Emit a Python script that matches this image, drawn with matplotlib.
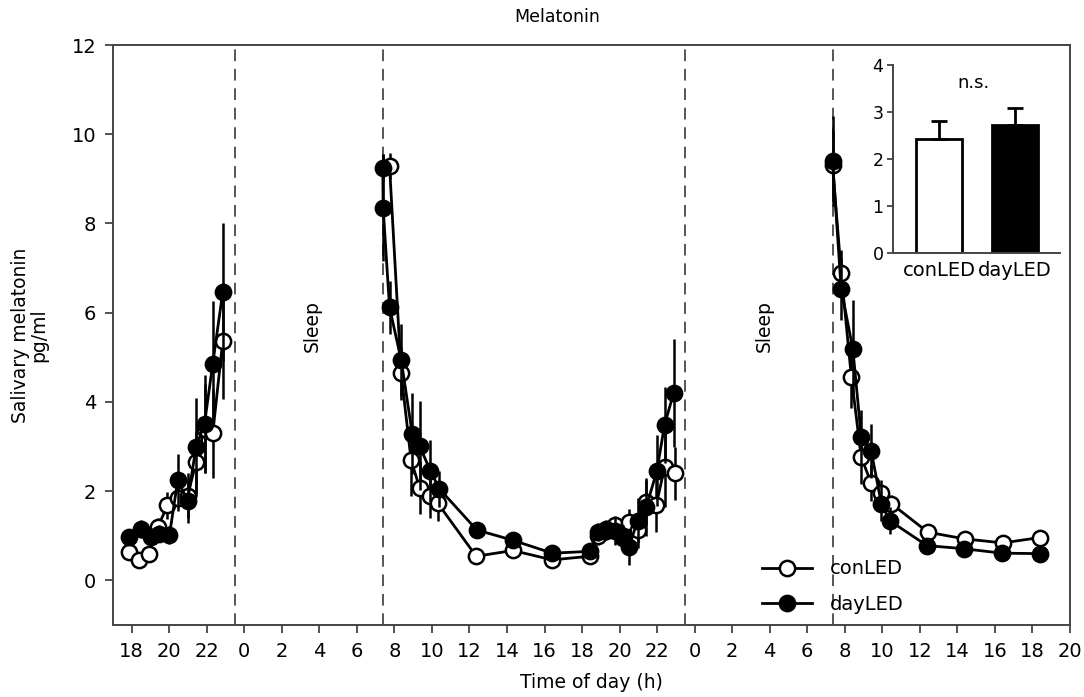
import matplotlib
matplotlib.use("Agg")
import matplotlib.pyplot as plt
from matplotlib.lines import Line2D
import numpy as np

plt.rcParams['font.family'] = ['DejaVu Sans']

# ---- data (time in hours from midnight of day 1) ----
# evening, day 1
con_t1 = [17.88, 18.41, 18.9, 19.4, 19.9, 20.45, 20.98, 21.43, 21.88, 22.32, 22.85]
con_y1 = [0.63, 0.45, 0.6, 1.2, 1.68, 1.85, 1.9, 2.65, 3.4, 3.3, 5.36]
con_e1 = [0.15, 0.1, 0.15, 0.2, 0.3, 0.3, 0.5, 0.7, 1.0, 1.0, 1.3]
day_t1 = [17.88, 18.5, 19.03, 19.48, 20.01, 20.45, 20.98, 21.43, 21.88, 22.32, 22.85]
day_y1 = [0.97, 1.16, 0.97, 1.05, 1.01, 2.24, 1.79, 2.99, 3.51, 4.86, 6.46]
day_e1 = [0.15, 0.2, 0.2, 0.2, 0.2, 0.6, 0.5, 1.1, 1.1, 1.4, 1.55]

# day 2, morning to evening
con_t2 = [31.74, 32.36, 32.89, 33.34, 33.92, 34.31, 36.36, 38.31, 40.41, 42.4,
          42.85, 43.3, 43.75, 44.2, 44.5, 44.97, 45.42, 45.95, 46.4, 46.93]
con_y2 = [9.29, 4.64, 2.69, 2.08, 1.9, 1.73, 0.54, 0.67, 0.46, 0.54,
          1.0, 1.1, 1.25, 1.0, 1.3, 1.12, 1.75, 1.68, 2.54, 2.4]
con_e2 = [0.3, 0.6, 0.8, 0.6, 0.5, 0.4, 0.1, 0.1, 0.1, 0.1,
          0.2, 0.2, 0.2, 0.2, 0.3, 0.4, 0.5, 0.6, 0.9, 0.6]
day_t2 = [31.38, 31.4, 31.74, 32.36, 32.95, 33.34, 33.92, 34.4, 36.39, 38.31, 40.41,
          42.4, 42.85, 43.3, 43.75, 44.2, 44.49, 44.97, 45.42, 45.99, 46.4, 46.88]
day_y2 = [9.25, 8.35, 6.12, 4.94, 3.29, 3.02, 2.45, 2.05, 1.13, 0.9, 0.61,
          0.65, 1.08, 1.15, 1.1, 0.95, 0.75, 1.34, 1.64, 2.46, 3.49, 4.2]
day_e2 = [0.3, 1.2, 0.6, 0.8, 0.9, 1.0, 0.7, 0.4, 0.15, 0.1, 0.1,
          0.1, 0.2, 0.2, 0.3, 0.3, 0.4, 0.5, 0.65, 0.8, 0.85, 1.2]

# day 3, morning
con_t3 = [55.35, 55.81, 56.35, 56.88, 57.41, 57.95, 58.48, 60.43, 62.39, 64.43, 66.39]
con_y3 = [9.3, 6.9, 4.57, 2.76, 2.18, 1.95, 1.72, 1.08, 0.93, 0.84, 0.96]
con_e3 = [0.8, 0.5, 0.7, 0.6, 0.4, 0.3, 0.2, 0.1, 0.1, 0.1, 0.1]
day_t3 = [55.35, 55.81, 56.43, 56.88, 57.41, 57.95, 58.39, 60.38, 62.34, 64.38, 66.39]
day_y3 = [9.4, 6.53, 5.19, 3.21, 2.9, 1.72, 1.34, 0.78, 0.71, 0.61, 0.6]
day_e3 = [1.0, 0.7, 1.1, 0.6, 0.6, 0.4, 0.3, 0.1, 0.1, 0.1, 0.1]

sleep_bounds = [23.5, 31.4, 47.5, 55.4]
sleep_label_x = [27.63, 51.73]

# inset: mean melatonin
groups = ['conLED', 'dayLED']
means = [2.42, 2.72]
sems = [0.38, 0.36]

xticks = np.arange(18, 69, 2)
xtick_labels = [str(int(t) % 24) for t in xticks]

# ---- figure ----
fig = plt.figure(figsize=(10.84, 6.97), dpi=100)
ax = fig.add_axes([0.1042, 0.1033, 0.8828, 0.8321])

spine_col = '#444444'
for s in ax.spines.values():
    s.set_color(spine_col)
    s.set_linewidth(1.4)

for xb in sleep_bounds:
    ax.axvline(xb, color='#555555', ls=(0, (6, 4)), lw=1.4, zorder=1)

mk = dict(marker='o', ms=11, mew=1.8, lw=2, elinewidth=1.8, capsize=0,
          color='k', ecolor='k')
for t, y, e in [(con_t1, con_y1, con_e1), (con_t2, con_y2, con_e2), (con_t3, con_y3, con_e3)]:
    ax.errorbar(t, y, yerr=e, mfc='white', mec='k', zorder=3, **mk)
for t, y, e in [(day_t1, day_y1, day_e1), (day_t2, day_y2, day_e2), (day_t3, day_y3, day_e3)]:
    ax.errorbar(t, y, yerr=e, mfc='k', mec='k', zorder=4, **mk)

for xs in sleep_label_x:
    ax.text(xs, 5.69, 'Sleep', rotation=90, ha='center', va='center', fontsize=13.5)

ax.set_xlim(17, 68)
ax.set_ylim(-1, 12)
ax.set_xticks(xticks)
ax.set_xticklabels(xtick_labels)
ax.set_yticks(np.arange(0, 13, 2))
ax.tick_params(direction='out', length=6, width=1.3, color=spine_col,
               labelsize=14, pad=6)

ax.set_xlabel('Time of day (h)', fontsize=13.5, labelpad=9)
ax.set_ylabel('Salivary melatonin\npg/ml', fontsize=13.5, linespacing=0.95)
ax.yaxis.set_label_coords(-0.068, 0.5)
fig.text(0.514, 0.975, 'Melatonin', ha='center', va='center', fontsize=12.5)

handles = [Line2D([], [], color='k', lw=2, marker='o', ms=11, mew=1.8, mfc='white', mec='k'),
           Line2D([], [], color='k', lw=2, marker='o', ms=11, mew=1.8, mfc='k', mec='k')]
ax.legend(handles, groups, loc='upper left', bbox_to_anchor=(0.678, 0.113),
          frameon=False, fontsize=14, handlelength=2.6, handletextpad=0.9,
          labelspacing=0.85, borderpad=0, borderaxespad=0)

# ---- inset bar chart ----
ins = fig.add_axes([0.824, 0.6374, 0.154, 0.2693])
pos = np.arange(len(groups))
ins.bar(pos, means, width=0.6, color=['white', 'k'], edgecolor='k', linewidth=2, zorder=2)
ins.errorbar(pos, means, yerr=[[0, 0], sems], fmt='none', ecolor='k',
             elinewidth=2, capsize=6, capthick=2, zorder=3)
ins.set_xlim(-0.6, 1.59)
ins.set_ylim(0, 4)
ins.set_xticks(pos)
ins.set_xticklabels(groups)
ins.set_yticks(range(5))
ins.tick_params(axis='x', length=0, labelsize=14, pad=6)
ins.tick_params(axis='y', direction='out', length=4, width=1.3, color=spine_col,
                labelsize=12.5, pad=3)
for side in ['top', 'right']:
    ins.spines[side].set_visible(False)
for side in ['left', 'bottom']:
    ins.spines[side].set_color(spine_col)
    ins.spines[side].set_linewidth(1.4)
ins.text(0.45, 3.62, 'n.s.', ha='center', va='center', fontsize=13)

fig.savefig('out.png', dpi=100)
